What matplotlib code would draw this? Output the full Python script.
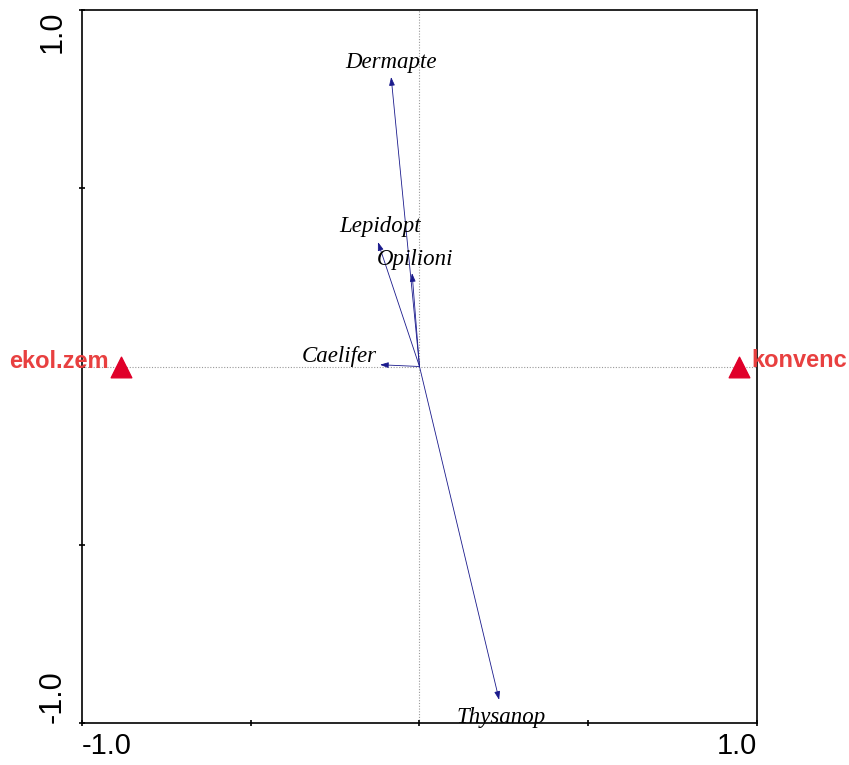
import matplotlib
matplotlib.use("Agg")
import matplotlib.pyplot as plt

# species arrows (x, y) in ordination space
species = ["Dermapte", "Lepidopt", "Opilioni", "Caelifer", "Thysanop"]
sp_x = [-0.084, -0.123, -0.022, -0.117, 0.236]
sp_y = [0.812, 0.349, 0.262, 0.005, -0.935]

# environmental centroids
env = ["ekol.zem", "konvenc"]
env_x = [-0.885, 0.947]
env_y = [0.0, 0.0]

fig = plt.figure(figsize=(8.49, 7.65), dpi=100)
ax = fig.add_axes([0.0966, 0.0549, 0.795, 0.932])
ax.set_xlim(-1.0, 1.0)
ax.set_ylim(-1.0, 1.0)

ax.axhline(0, color="#999999", ls=(0, (1, 1.5)), lw=0.8, zorder=1)
ax.axvline(0, color="#999999", ls=(0, (1, 1.5)), lw=0.8, zorder=1)

navy = "#1a1a8c"
for name, x, y in zip(species, sp_x, sp_y):
    ax.annotate("", xy=(x, y), xytext=(0, 0),
                arrowprops=dict(arrowstyle="-|>,head_length=0.5,head_width=0.17",
                                color=navy, lw=0.6, shrinkA=0, shrinkB=0),
                zorder=3)

lab_kw = dict(family="Liberation Serif", style="italic", fontsize=16.5, color="black")
ax.text(sp_x[0], sp_y[0] + 0.012, species[0], ha="center", va="bottom", **lab_kw)
ax.text(sp_x[1] + 0.005, sp_y[1] + 0.015, species[1], ha="center", va="bottom", **lab_kw)
ax.text(sp_x[2] + 0.01, sp_y[2] + 0.01, species[2], ha="center", va="bottom", **lab_kw)
ax.text(sp_x[3] - 0.01, sp_y[3] - 0.006, species[3], ha="right", va="bottom", **lab_kw)
ax.text(sp_x[4] + 0.005, sp_y[4] - 0.02, species[4], ha="center", va="top", **lab_kw)

red = "#e0002a"
ax.scatter(env_x, env_y, marker="^", s=220, color=red, zorder=4, clip_on=False)
ax.text(env_x[0] - 0.035, env_y[0] + 0.015, env[0], ha="right", va="center",
        family="Liberation Sans", weight="bold", fontsize=17, color="#e84040")
ax.text(env_x[1] + 0.035, env_y[1] + 0.018, env[1], ha="left", va="center",
        family="Liberation Sans", weight="bold", fontsize=17, color="#e84040")

ax.set_xticks([-1.0, -0.5, 0.0, 0.5, 1.0])
ax.set_yticks([-1.0, -0.5, 0.0, 0.5, 1.0])
ax.set_xticklabels(["-1.0", "", "", "", "1.0"], family="Liberation Sans", fontsize=21)
ax.set_yticklabels(["-1.0", "", "", "", "1.0"], family="Liberation Sans", fontsize=22,
                   rotation=90)
xl = ax.get_xticklabels()
xl[0].set_ha("left")
xl[-1].set_ha("right")
yl = ax.get_yticklabels()
yl[0].set_va("bottom")
yl[-1].set_va("top")
ax.tick_params(direction="inout", length=5, width=1.2, pad=8)
ax.tick_params(axis="x", pad=4)
for s in ax.spines.values():
    s.set_linewidth(1.2)

fig.savefig("out.png", dpi=100)
